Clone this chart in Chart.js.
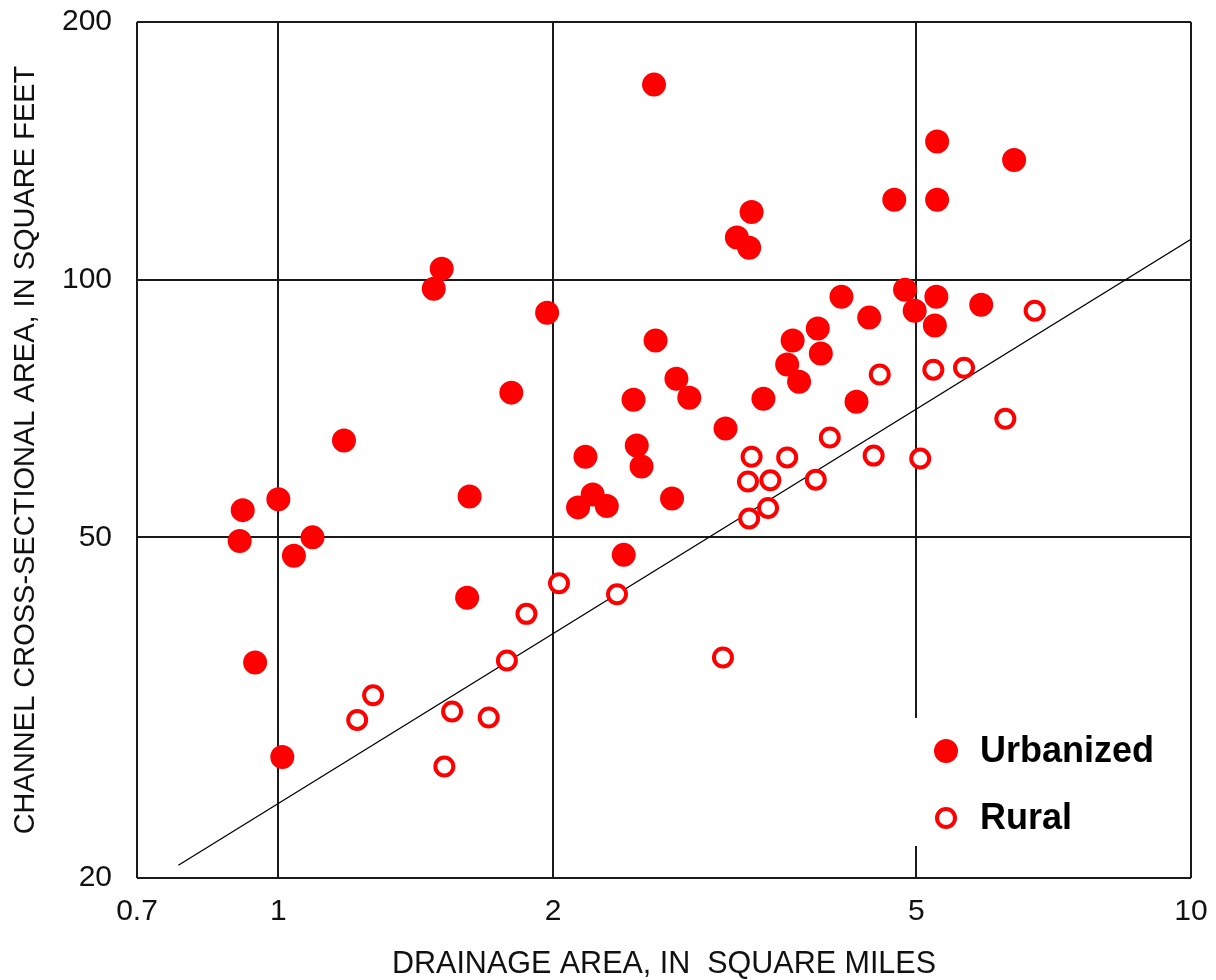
<!DOCTYPE html>
<html>
<head>
<meta charset="utf-8">
<title>Channel cross-sectional area vs drainage area</title>
<script src="https://cdn.jsdelivr.net/npm/chart.js@4/dist/chart.umd.min.js"></script>
<style>
  html, body { margin: 0; padding: 0; background: #fff; }
  #wrap { width: 1216px; height: 980px; }
</style>
</head>
<body>
<div id="wrap"><canvas id="chart" width="1216" height="980"></canvas></div>
<script>
// Urbanized basins: drainage area (sq mi) and channel cross-sectional area (sq ft)
const urbanArea = [
  2.58, 5.27, 6.40, 4.73, 5.27, 3.30, 3.18, 3.28, 1.51, 1.48,
  1.97, 4.86, 5.26, 4.14, 5.89, 4.98, 4.44, 5.24, 3.90, 2.59,
  3.66, 3.93, 3.61, 2.73, 3.72, 1.80, 2.45, 2.82, 3.40, 4.30,
  3.09, 1.18, 2.47, 2.17, 2.50, 1.62, 1.00, 2.70, 2.21, 2.13,
  2.29, 0.914, 0.907, 1.09, 1.04, 2.39, 1.61, 0.943, 1.01
];
const urbanChannel = [
  169, 145, 138, 124, 124, 120, 112, 109, 103, 97.6,
  91.5, 97.3, 95.5, 95.5, 93.5, 92.0, 90.3, 88.4, 87.7, 84.9,
  84.9, 82.0, 79.6, 76.6, 76.0, 73.8, 72.4, 72.8, 72.6, 72.0,
  67.0, 64.9, 64.0, 62.1, 60.5, 55.8, 55.4, 55.5, 56.1, 54.2,
  54.4, 53.8, 49.5, 50.0, 47.6, 47.7, 42.5, 35.7, 27.7
];

// Rural basins
const ruralArea = [
  6.74, 5.64, 5.22, 4.56, 6.26, 4.02, 3.30, 3.61, 4.49, 5.05,
  3.27, 3.46, 3.88, 3.44, 3.28, 2.03, 2.35, 1.87, 1.78, 3.07,
  1.27, 1.22, 1.55, 1.70, 1.52
];
const ruralChannel = [
  92.0, 78.9, 78.5, 77.5, 68.8, 65.4, 62.1, 62.0, 62.3, 61.8,
  58.1, 58.3, 58.4, 54.1, 52.6, 44.2, 42.9, 40.7, 35.9, 36.2,
  32.7, 30.6, 31.3, 30.8, 27.0
];

// Rural regression line, end points
const fitArea = [0.777, 10];
const fitChannel = [20.7, 111.5];

// Axis ticks
const xTicks = [0.7, 1, 2, 5, 10];
const xTickLabels = ['0.7', '1', '2', '5', '10'];
const yTicks = [20, 50, 100, 200];
const yTickLabels = ['20', '50', '100', '200'];

const seriesNames = ['Urbanized', 'Rural'];

const toPoints = (xs, ys) => xs.map((x, i) => ({ x: x, y: ys[i] }));

const RED = '#ff0000';
const INK = '#111111';
const GRID = '#1a1a1a';
const FONT = "'Liberation Sans', Arial, Helvetica, sans-serif";

// Legend drawn inside the lower-right corner of the plot, on a white box
const insetLegend = {
  id: 'insetLegend',
  afterDatasetsDraw(chart) {
    const { ctx, chartArea } = chart;
    const r = chartArea.right, b = chartArea.bottom;
    ctx.save();
    ctx.fillStyle = '#ffffff';
    ctx.fillRect(r - 279, b - 160, 277, 128);

    const mx = r - 245;
    const rows = [b - 127, b - 60];
    chart.data.datasets.slice(0, 2).forEach((ds, i) => {
      const y = rows[i];
      ctx.beginPath();
      ctx.arc(mx, y, ds.pointRadius, 0, Math.PI * 2);
      ctx.fillStyle = ds.backgroundColor;
      ctx.fill();
      ctx.lineWidth = ds.borderWidth;
      ctx.strokeStyle = ds.borderColor;
      ctx.stroke();

      ctx.fillStyle = '#000';
      ctx.font = 'bold 36px ' + FONT;
      ctx.textAlign = 'left';
      ctx.textBaseline = 'middle';
      ctx.fillText(ds.label, r - 211, y + 1);
    });
    ctx.restore();
  }
};

new Chart(document.getElementById('chart'), {
  type: 'scatter',
  data: {
    datasets: [
      {
        label: seriesNames[0],
        data: toPoints(urbanArea, urbanChannel),
        pointRadius: 11,
        borderWidth: 2,
        backgroundColor: RED,
        borderColor: RED,
        pointHoverRadius: 11
      },
      {
        label: seriesNames[1],
        data: toPoints(ruralArea, ruralChannel),
        pointRadius: 9,
        borderWidth: 4,
        backgroundColor: '#ffffff',
        borderColor: RED,
        pointHoverRadius: 9
      },
      {
        label: 'fit',
        data: toPoints(fitArea, fitChannel),
        showLine: true,
        pointRadius: 0,
        borderWidth: 1.3,
        borderColor: '#000',
        backgroundColor: '#000',
        fill: false
      }
    ]
  },
  options: {
    responsive: false,
    devicePixelRatio: 1,
    animation: false,
    events: [],
    layout: { padding: { top: 22, right: 25, bottom: 0, left: 0 } },
    plugins: {
      legend: { display: false },
      tooltip: { enabled: false }
    },
    scales: {
      x: {
        type: 'logarithmic',
        min: 0.7,
        max: 10,
        afterBuildTicks: (s) => { s.ticks = xTicks.map(v => ({ value: v })); },
        afterFit: (s) => { s.height = 102; s.paddingLeft = 0; s.paddingRight = 0; },
        grid: { color: GRID, lineWidth: 2, drawTicks: false },
        border: { display: false },
        ticks: {
          autoSkip: false,
          maxRotation: 0,
          padding: 16,
          color: INK,
          font: { family: FONT, size: 30 },
          callback: (v, i) => xTickLabels[i]
        },
        title: {
          display: true,
          text: 'DRAINAGE AREA, IN  SQUARE MILES',
          color: INK,
          font: { family: FONT, size: 30.5, lineHeight: 1 },
          padding: { top: 0, bottom: 0 }
        }
      },
      y: {
        type: 'logarithmic',
        min: 20,
        max: 200,
        afterBuildTicks: (s) => { s.ticks = yTicks.map(v => ({ value: v })); },
        afterFit: (s) => { s.width = 137; s.paddingTop = 0; s.paddingBottom = 0; },
        grid: { color: GRID, lineWidth: 2, drawTicks: false },
        border: { display: false },
        ticks: {
          autoSkip: false,
          padding: 25,
          color: INK,
          font: { family: FONT, size: 30 },
          callback: (v, i) => yTickLabels[i]
        },
        title: {
          display: true,
          text: 'CHANNEL CROSS-SECTIONAL AREA, IN SQUARE FEET',
          color: INK,
          font: { family: FONT, size: 29, lineHeight: 1.2 },
          padding: { top: 9, bottom: 0 }
        }
      }
    }
  },
  plugins: [insetLegend]
});
</script>
</body>
</html>
